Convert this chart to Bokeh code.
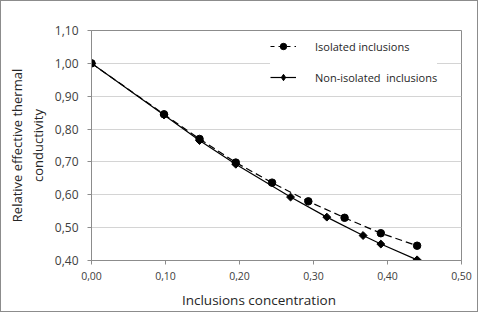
import math
from bokeh.plotting import figure
from bokeh.models import FixedTicker, Legend, LegendItem, Range1d, LinearAxis
from bokeh.embed import file_html
from bokeh.resources import INLINE

# Data
iso_x = [0.000, 0.098, 0.146, 0.195, 0.244, 0.293, 0.342, 0.391, 0.440]
iso_y = [1.000, 0.845, 0.770, 0.698, 0.637, 0.580, 0.530, 0.483, 0.445]
non_x = [0.000, 0.098, 0.146, 0.195, 0.269, 0.318, 0.367, 0.391, 0.440]
non_y = [1.000, 0.843, 0.765, 0.693, 0.593, 0.532, 0.476, 0.450, 0.402]
x_ticks = [0.0, 0.1, 0.2, 0.3, 0.4, 0.5]
x_labels = ["0,00", "0,10", "0,20", "0,30", "0,40", "0,50"]
y_ticks = [0.4, 0.5, 0.6, 0.7, 0.8, 0.9, 1.0, 1.1]
y_labels = ["0,40", "0,50", "0,60", "0,70", "0,80", "0,90", "1,00", "1,10"]
series_names = ["Isolated inclusions", "Non-isolated  inclusions"]
x_title = "Inclusions concentration"
y_title_lines = ["Relative effective thermal", "conductivity"]

FONT = "Open Sans"
GRAY = "#8c8c8c"
TXT = "#262626"
NBSP = "\u00a0"

p = figure(width=478, height=312, output_backend="svg", toolbar_location=None,
           x_range=Range1d(0, 0.5), y_range=Range1d(0.4, 1.1),
           min_border_left=90, min_border_right=18, min_border_top=29, min_border_bottom=53,
           styles={"position": "absolute", "left": "0px", "top": "0px",
                   "border": "1px solid " + GRAY})
p.background_fill_color = "white"
p.border_fill_color = "white"
p.outline_line_color = GRAY
p.outline_line_width = 1

p.xgrid.visible = False
p.ygrid.grid_line_color = "#d4d4d4"
p.ygrid.grid_line_width = 1

p.xaxis.ticker = FixedTicker(ticks=x_ticks)
p.yaxis.ticker = FixedTicker(ticks=y_ticks)
p.xaxis.major_label_overrides = {t: l for t, l in zip(x_ticks, x_labels)}
p.yaxis.major_label_overrides = {t: l for t, l in zip(y_ticks, y_labels)}

for ax in (p.xaxis, p.yaxis):
    ax.axis_line_color = GRAY
    ax.major_tick_line_color = GRAY
    ax.minor_tick_line_color = None
    ax.major_tick_in = 0
    ax.major_tick_out = 4
    ax.major_label_text_font = FONT
    ax.major_label_text_color = "#404040"
    ax.axis_label_text_font = FONT
    ax.axis_label_text_font_style = "normal"
    ax.axis_label_text_color = TXT
p.xaxis.major_label_text_font_size = "10.5px"
p.yaxis.major_label_text_font_size = "12px"
p.xaxis.major_label_standoff = 7
p.yaxis.major_label_standoff = 9

# x title (trailing no-break spaces shift the visible text left, as in the reference)
p.xaxis.axis_label = x_title + NBSP * 10
p.xaxis.axis_label_text_font_size = "13.5px"
p.xaxis.axis_label_standoff = 8

# y title: inner line on the main axis, outer line on a label-only axis
p.yaxis.axis_label = y_title_lines[1]
p.yaxis.axis_label_text_font_size = "13px"
p.yaxis.axis_label_standoff = 5
outer = LinearAxis(axis_label=y_title_lines[0], ticker=FixedTicker(ticks=[]),
                   axis_line_color=None, major_tick_line_color=None, minor_tick_line_color=None,
                   major_tick_out=0, major_tick_in=0, major_label_text_font_size="0px",
                   major_label_standoff=0, axis_label_standoff=0,
                   axis_label_text_font=FONT, axis_label_text_font_size="13px",
                   axis_label_text_font_style="normal", axis_label_text_color=TXT)
p.add_layout(outer, "left")

r1 = p.line(iso_x, iso_y, line_color="black", line_width=1.2, line_dash="7 4")
m1 = p.scatter(iso_x, iso_y, marker="circle", size=7.5, fill_color="black", line_color="black")
r2 = p.line(non_x, non_y, line_color="black", line_width=1.2)
m2 = p.scatter(non_x, non_y, marker="square", angle=math.pi / 4, size=5.6,
               fill_color="black", line_color="black")

# hidden renderers used only for the legend glyphs (smaller markers)
l1 = p.line(iso_x, iso_y, line_color="black", line_width=1.2, line_dash="4 4", visible=False)
l1m = p.scatter(iso_x, iso_y, marker="circle", size=6, fill_color="black",
                line_color="black", visible=False)
l2 = p.line(non_x, non_y, line_color="black", line_width=1.2, visible=False)
l2m = p.scatter(non_x, non_y, marker="diamond", size=8, fill_color="black",
                line_color="black", visible=False)

legend = Legend(items=[LegendItem(label=series_names[0], renderers=[l1, l1m]),
                       LegendItem(label=series_names[1], renderers=[l2, l2m])],
                location=(179, 175))
legend.border_line_color = None
legend.background_fill_color = "white"
legend.background_fill_alpha = 1
legend.inactive_fill_alpha = 0
legend.label_text_font = FONT
legend.label_text_font_size = "11px"
legend.label_text_color = TXT
legend.glyph_width = 26
legend.glyph_height = 16
legend.label_height = 16
legend.label_standoff = 19
legend.spacing = 15
legend.padding = 8
legend.margin = 0
p.add_layout(legend)

open("out.html", "w").write(file_html(p, INLINE))
